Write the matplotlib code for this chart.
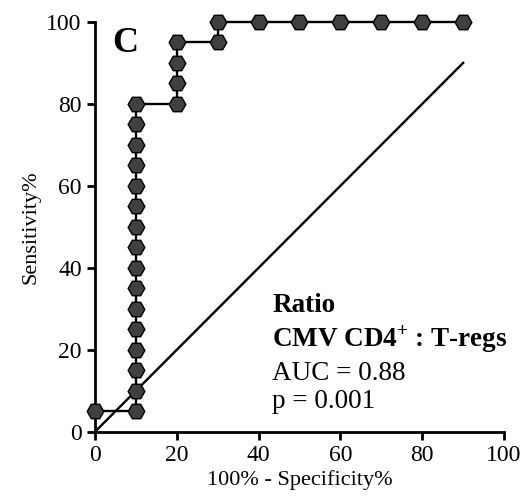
import matplotlib
matplotlib.use("Agg")
import matplotlib.pyplot as plt

# ROC 곡선 좌표 (100% - Specificity%, Sensitivity%)
fpr = [0] + [10] * 16 + [20] * 4 + [30] * 2 + [40, 50, 60, 70, 80, 90]
tpr = [5] + list(range(5, 85, 5)) + [80, 85, 90, 95] + [95, 100] + [100] * 6
ref_x = [0, 90]
ref_y = [0, 90]
ticks = [0, 20, 40, 60, 80, 100]

plt.rcParams['font.family'] = ['Liberation Serif', 'DejaVu Serif']
plt.rcParams['mathtext.fontset'] = 'custom'
plt.rcParams['mathtext.rm'] = 'Liberation Serif'
plt.rcParams['mathtext.bf'] = 'Liberation Serif:bold'

fig = plt.figure(figsize=(5.24, 4.97), dpi=100)
ax = fig.add_axes([0.181, 0.131, 0.781, 0.825])

ax.plot(ref_x, ref_y, color="black", lw=1.7, clip_on=False)
ax.plot(fpr, tpr, color="black", lw=1.7, marker="H", ms=12,
        mfc="#404040", mec="black", mew=1.0, clip_on=False, zorder=3)

ax.set_xlim(0, 100); ax.set_ylim(0, 100)
ax.set_xticks(ticks); ax.set_yticks(ticks)
for s in ("top", "right"):
    ax.spines[s].set_visible(False)
for s in ("left", "bottom"):
    ax.spines[s].set_linewidth(2)
ax.tick_params(width=2, length=6, labelsize=17, direction="out")
ax.set_xlabel("100% - Specificity%", fontsize=16, labelpad=3)
ax.set_ylabel("Sensitivity%", fontsize=16, labelpad=4)

ax.text(4.2, 92.7, "C", fontsize=26, fontweight="bold", va="baseline")
ax.text(43.4, 29.3, "Ratio", fontsize=19.5, fontweight="bold", va="baseline")
ax.text(43.4, 20.8, r"CMV CD4$^{\mathbf{+}}$ : T-regs", fontsize=19.5,
        fontweight="bold", va="baseline")
ax.text(43.4, 12.7, "AUC = 0.88", fontsize=19.5, va="baseline")
ax.text(43.4, 5.9, "p = 0.001", fontsize=19.5, va="baseline")

fig.savefig("out.png", dpi=100)
